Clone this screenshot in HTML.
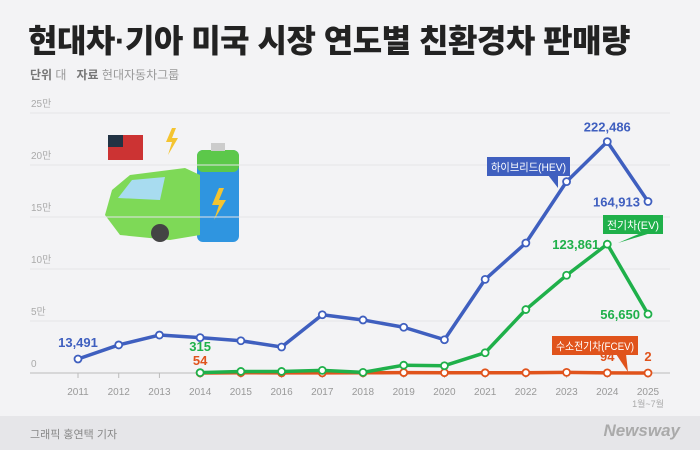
<!DOCTYPE html>
<html><head><meta charset="utf-8"><style>
body{margin:0;width:700px;height:450px;background:#f3f3f5;font-family:"Liberation Sans","Noto Sans CJK KR",sans-serif;overflow:hidden;position:relative}
.t{position:absolute;left:28px;top:16px;font-size:32px;font-weight:900;color:#222;letter-spacing:-0.5px;white-space:nowrap}
.sub{position:absolute;left:30px;top:66px;font-size:12px;color:#999}
.sub b{color:#777}
.foot{position:absolute;left:0;top:416px;width:700px;height:34px;background:#e6e6e9}
</style></head><body>
<div class="t">현대차·기아 미국 시장 연도별 친환경차 판매량</div>
<div class="sub"><b>단위</b> 대 &nbsp; <b>자료</b> 현대자동차그룹</div>
<div class="foot">
<span style="position:absolute;left:30px;top:10px;font-size:11px;color:#888">그래픽 홍연택 기자</span>
<span style="position:absolute;right:20px;top:5px;font-size:17px;font-style:italic;font-weight:bold;color:#aaa">Newsway</span>
</div>
<svg id="c" width="700" height="450" style="position:absolute;left:0;top:0">
<g>
<rect x="197" y="150" width="42" height="92" rx="6" fill="#2f95e0"/>
<rect x="197" y="150" width="42" height="22" rx="6" fill="#5cc84a"/>
<rect x="211" y="143" width="14" height="8" fill="#ccc"/>
<polygon points="219,188 212,205 219,205 214,220 226,200 219,200 224,188" fill="#f4c430"/>
<polygon points="172,128 166,142 172,142 168,155 178,138 172,138 176,128" fill="#f4c430"/>
<path d="M105,215 L112,190 L130,175 L185,168 L200,175 L200,235 L170,240 L120,235 Z" fill="#7ed957"/>
<path d="M118,198 L132,180 L165,177 L160,200 Z" fill="#a8dcf0"/>
<circle cx="160" cy="233" r="9" fill="#444"/>
<rect x="108" y="135" width="35" height="25" fill="#c33"/><rect x="108" y="135" width="15" height="12" fill="#234"/>
</g>
</svg>
<script>
const years=["2011","2012","2013","2014","2015","2016","2017","2018","2019","2020","2021","2022","2023","2024","2025"];
const hev=[13491,27000,36500,34000,31000,25000,56000,51000,44000,32000,90000,125000,184000,222486,164913];
const ev=[null,null,null,315,1500,1500,2500,600,7500,7000,19500,61000,94000,123861,56650];
const fcev=[null,null,null,54,300,100,100,200,400,300,200,300,600,94,2];
const yTicks=[0,50000,100000,150000,200000,250000];
const yTickLabels=["0","5만","10만","15만","20만","25만"];
const NS="http://www.w3.org/2000/svg",svg=document.getElementById('c');
const x=i=>78+i*(570/14), y=v=>373-v*(260/250000);
function el(t,a,txt){const e=document.createElementNS(NS,t);for(const k in a)e.setAttribute(k,a[k]);if(txt!=null)e.textContent=txt;svg.appendChild(e);return e;}
yTicks.forEach((v,i)=>{
 const g=el('line',{x1:30,x2:670,y1:y(v),y2:y(v),stroke:i?'#e4e4e8':'#bbb','stroke-width':1});
 
 
 const t=el('text',{x:31,y:y(v)-6,'font-size':10,fill:'#aaa'},yTickLabels[i]);
 
 
});
years.forEach((yr,i)=>{
 const t=el('text',{x:x(i),y:395,'font-size':10,fill:'#999','text-anchor':'middle'},yr);
 
 
 el('line',{x1:x(i),x2:x(i),y1:373,y2:378,stroke:'#bbb'});
});
const t2=el('text',{x:x(14),y:407,'font-size':9,fill:'#aaa','text-anchor':'middle'},"1월~7월");


function series(arr,col,name){
 const pts=arr.map((v,i)=>v==null?null:[x(i),y(v)]).filter(p=>p);
 const p=el('polyline',{points:pts.map(p=>p.join(',')).join(' '),fill:'none',stroke:col,'stroke-width':3.5,'stroke-linejoin':'round'});
 
 
 pts.forEach(q=>{const c=el('circle',{cx:q[0],cy:q[1],r:3.5,fill:'#fff',stroke:col,'stroke-width':1.8});
 
 });
}
series(fcev,'#e0531c','fcev');
series(ev,'#1fb04a','ev');
series(hev,'#3f5fbf','hev');
function tag(txt,bx,by,w,col,tx,ty){
 el('polygon',{points:`${bx+w-22},${by+18} ${bx+w-12},${by+18} ${tx},${ty}`,fill:col});
 const r=el('rect',{x:bx,y:by,width:w,height:19,fill:col});
 
 
 el('text',{x:bx+w/2,y:by+14,'font-size':11,fill:'#fff','text-anchor':'middle',textLength:w-8,lengthAdjust:'spacingAndGlyphs'},txt);
}
tag("하이브리드(HEV)",487,157,83,'#3f5fbf',558,188);
tag("전기차(EV)",603,215,60,'#1fb04a',618,243);
tag("수소전기차(FCEV)",552,336,86,'#e0531c',628,372);
function lab(txt,xx,yy,col,anc){const t=el('text',{x:xx,y:yy,'font-size':13,fill:col,'text-anchor':anc||'middle','font-weight':'bold'},txt);

}
lab("13,491",x(0),y(hev[0])-12,'#3f5fbf');
lab("222,486",x(13),y(hev[13])-10,'#3f5fbf');
lab("164,913",x(14)-8,y(hev[14])+5,'#3f5fbf','end');
lab("123,861",x(13)-8,y(ev[13])+5,'#1fb04a','end');
lab("56,650",x(14)-8,y(ev[14])+5,'#1fb04a','end');
lab("315",x(3),y(0)-22,'#1fb04a');
lab("54",x(3),y(0)-8,'#e0531c');
lab("94",x(13),y(0)-12,'#e0531c');
lab("2",x(14),y(0)-12,'#e0531c');
</script>
</body></html>
